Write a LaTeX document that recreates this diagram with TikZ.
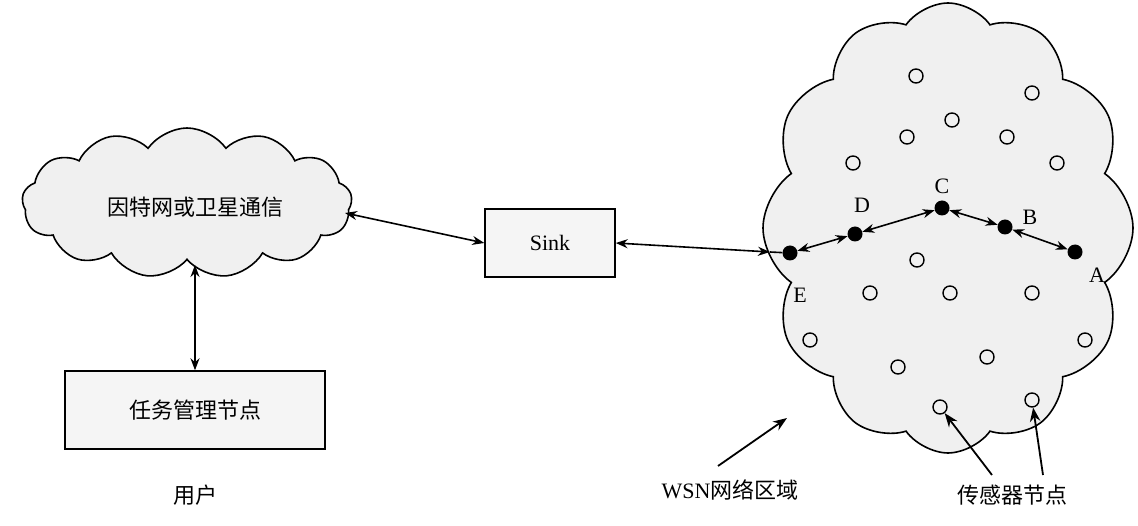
\documentclass[tikz,border=0pt]{standalone}
\usepackage{fontspec}
\setmainfont{Liberation Serif}
\newfontfamily\cjk{Noto Sans CJK SC}
\usetikzlibrary{shapes.symbols,arrows.meta}
\begin{document}
\begin{tikzpicture}[x=1pt,y=-1pt,
  cl/.style={cloud, draw, line width=1.6pt, fill=gray!12, cloud puffs=#1, cloud puff arc=110, inner sep=0pt},
  box/.style={draw, line width=1.4pt, fill=gray!8, minimum width=#1, minimum height=68pt},
  sn/.style={circle, draw, line width=1.4pt, minimum size=14pt, inner sep=0pt},
  fn/.style={circle, fill=black, minimum size=15pt, inner sep=0pt},
  lab/.style={font=\fontsize{22}{24}\selectfont},
  cn/.style={font=\cjk\fontsize{22}{24}\selectfont},
  ar/.style={line width=1.6pt, {Stealth[length=12pt]}-{Stealth[length=12pt]}},
  sa/.style={line width=1.8pt, -{Stealth[length=14pt]}}]
\useasboundingbox (0,0) rectangle (1138,526);
\node[cl=13, minimum width=330pt, minimum height=150pt] (net) at (187,203) {};
\node[cn] (nett) at (195,207) {因特网或卫星通信};
\node[box=130pt, font=\fontsize{22}{24}\selectfont] (sink) at (550,243) {Sink};
\node[box=260pt, minimum height=78pt] (task) at (195,410) {};
\node[cn] at (195,410) {任务管理节点};
\node[cn] (user) at (195,495) {用户};
\node[cl=12, minimum width=370pt, minimum height=450pt] (wsn) at (948,228) {};
\foreach \n/\x/\y in {s1/916/76,s2/1032/93,s3/952/120,s4/907/137,s5/1007/137,s6/853/163,s7/1057/163,s8/917/260,s9/870/293,s10/950/293,s11/1032/293,s12/810/340,s13/1085/340,s14/898/367,s15/987/357,s16/940/407,s17/1032/400}
  \node[sn] (\n) at (\x,\y) {};
\node[fn] (E) at (790,253) {};
\node[fn] (D) at (855,234) {};
\node[fn] (C) at (942,208) {};
\node[fn] (B) at (1005,227) {};
\node[fn] (A) at (1075,252) {};
\coordinate (edge) at (770,252);
\node[lab] at (942,186) {C};
\node[lab] at (862,205) {D};
\node[lab] at (1030,217) {B};
\node[lab] at (1097,275) {A};
\node[lab] at (800,295) {E};
\draw[ar] (E) -- (D);
\draw[ar] (D) -- (C);
\draw[ar] (C) -- (B);
\draw[ar] (B) -- (A);
\draw[ar] (sink.east) -- (edge);
\draw[line width=1.6pt] (edge) -- (E);
\coordinate (n1) at (345,213);
\draw[ar] (n1) -- (sink.west);
\coordinate (n2) at (195,265);
\draw[ar] (n2) -- (task.north);
\node[cn] (wl) at (730,490) {\fontspec{Liberation Serif}WSN\cjk 网络区域};
\coordinate (wt) at (787,418);
\draw[sa] (718,466) -- (wt);
\node[cn] (sl) at (1012,495) {传感器节点};
\draw[sa] (992,475) -- (s16);
\draw[sa] (1043,475) -- (s17);
\end{tikzpicture}
\end{document}
